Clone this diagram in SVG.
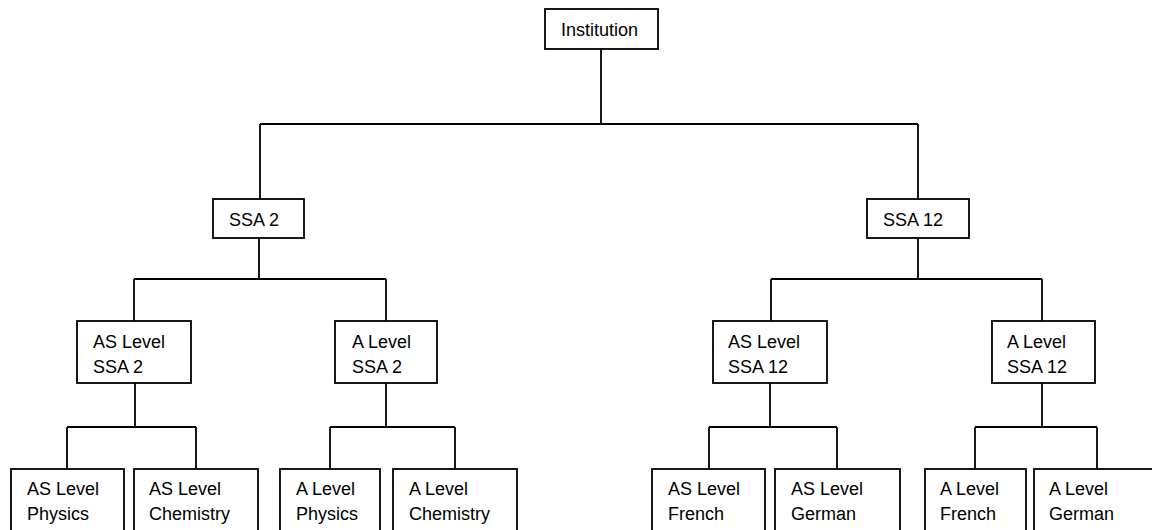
<svg xmlns="http://www.w3.org/2000/svg" width="1152" height="530" viewBox="0 0 1152 530">
<style>
.box{fill:#fff;stroke:#000;stroke-width:1.8}
.t{font-family:"Liberation Sans",Arial,sans-serif;font-size:18px;fill:#000}
.c{fill:none;stroke:#000;stroke-width:1.8}
</style>
<rect width="1152" height="530" fill="#fff"/>
<g id="connectors" class="c">
<path d="M601 49V124M260 124H918M260 124V199M918 124V199"/>
<path d="M259 238V279M134 279H386M134 279V321M386 279V321"/>
<path d="M918 238V279M771 279H1042M771 279V321M1042 279V321"/>
<path d="M135 383V427M67 427H196M67 427V469M196 427V469"/>
<path d="M386 383V427M330 427H455M330 427V469M455 427V469"/>
<path d="M770 383V427M709 427H837M709 427V469M837 427V469"/>
<path d="M1042 383V427M975 427H1097M975 427V469M1097 427V469"/>
</g>
<g id="institution"><rect class="box" x="545" y="9" width="113" height="40"/><text class="t" x="561" y="36">Institution</text></g>
<g id="ssa2"><rect class="box" x="213" y="199" width="91" height="39"/><text class="t" x="229" y="226">SSA 2</text></g>
<g id="ssa12"><rect class="box" x="867" y="199" width="102" height="39"/><text class="t" x="883" y="226">SSA 12</text></g>
<g id="as-ssa2"><rect class="box" x="77" y="321" width="114" height="62"/><text class="t" x="93" y="348">AS Level</text><text class="t" x="93" y="373">SSA 2</text></g>
<g id="a-ssa2"><rect class="box" x="335" y="321" width="102" height="62"/><text class="t" x="352" y="348">A Level</text><text class="t" x="352" y="373">SSA 2</text></g>
<g id="as-ssa12"><rect class="box" x="713" y="321" width="114" height="62"/><text class="t" x="728" y="348">AS Level</text><text class="t" x="728" y="373">SSA 12</text></g>
<g id="a-ssa12"><rect class="box" x="992" y="321" width="103" height="62"/><text class="t" x="1007" y="348">A Level</text><text class="t" x="1007" y="373">SSA 12</text></g>
<g id="as-physics"><rect class="box" x="11" y="469" width="113" height="80"/><text class="t" x="27" y="495">AS Level</text><text class="t" x="27" y="520">Physics</text></g>
<g id="as-chemistry"><rect class="box" x="134" y="469" width="124" height="80"/><text class="t" x="149" y="495">AS Level</text><text class="t" x="149" y="520">Chemistry</text></g>
<g id="a-physics"><rect class="box" x="280" y="469" width="100" height="80"/><text class="t" x="296" y="495">A Level</text><text class="t" x="296" y="520">Physics</text></g>
<g id="a-chemistry"><rect class="box" x="393" y="469" width="124" height="80"/><text class="t" x="409" y="495">A Level</text><text class="t" x="409" y="520">Chemistry</text></g>
<g id="as-french"><rect class="box" x="652" y="469" width="113" height="80"/><text class="t" x="668" y="495">AS Level</text><text class="t" x="668" y="520">French</text></g>
<g id="as-german"><rect class="box" x="775" y="469" width="125" height="80"/><text class="t" x="791" y="495">AS Level</text><text class="t" x="791" y="520">German</text></g>
<g id="a-french"><rect class="box" x="925" y="469" width="101" height="80"/><text class="t" x="940" y="495">A Level</text><text class="t" x="940" y="520">French</text></g>
<g id="a-german"><rect class="box" x="1034" y="469" width="125" height="80"/><text class="t" x="1049" y="495">A Level</text><text class="t" x="1049" y="520">German</text></g>
</svg>
